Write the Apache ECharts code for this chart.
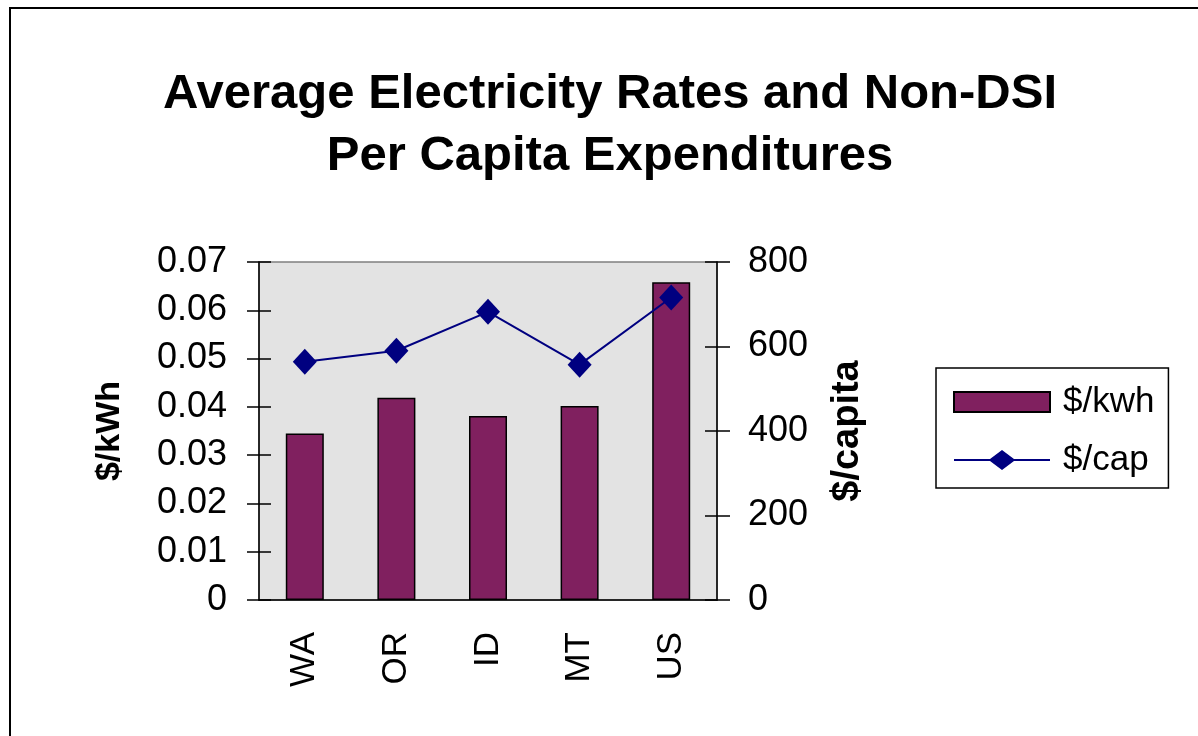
<!DOCTYPE html>
<html>
<head>
<meta charset="utf-8">
<script src="https://cdn.jsdelivr.net/npm/echarts@6/dist/echarts.min.js"></script>
<style>
  html, body { margin: 0; padding: 0; background: #fff; }
  #chart { width: 1198px; height: 736px; }
</style>
</head>
<body>
<div id="chart"></div>
<script>
  // categories along the x axis
  const states = ['WA', 'OR', 'ID', 'MT', 'US']
  // average electricity rate, $/kWh (bars, left axis)
  const rateKwh = [0.0345, 0.0419, 0.0381, 0.0402, 0.0658]
  // non-DSI per capita expenditures, $ (line, right axis)
  const perCapita = [564, 590, 682, 557, 716]

  const FONT = 'Liberation Sans, Arial, sans-serif'
  const chart = echarts.init(document.getElementById('chart'))

  // hidden twin axes that draw the inner half of the cross ticks
  const innerY = (min, max, interval, pos) => ({
    type: 'value', position: pos, min: min, max: max, interval: interval,
    axisLine: { show: false },
    axisTick: { show: true, inside: true, length: 12, lineStyle: { color: '#000', width: 1.5 } },
    axisLabel: { show: false },
    splitLine: { show: false }
  })

  // legend icon for the line: thin line with a diamond in the middle
  const lineDiamondIcon = 'path://M0,9L36,9L48,0L60,9L96,9L96,11L60,11L48,20L36,11L0,11Z'

  chart.setOption({
    animation: false,
    backgroundColor: '#fff',
    textStyle: { fontFamily: FONT, color: '#000' },
    title: {
      text: 'Average Electricity Rates and Non-DSI\nPer Capita Expenditures',
      left: 605,
      top: 58,
      textAlign: 'center',
      textStyle: { fontFamily: FONT, fontSize: 49, fontWeight: 'bold', color: '#000', lineHeight: 62 }
    },
    graphic: [{
      type: 'rect',
      shape: { x: 10, y: 8, width: 1400, height: 900 },
      style: { fill: 'none', stroke: '#000', lineWidth: 2 },
      silent: true
    }],
    legend: {
      orient: 'vertical',
      left: 936,
      top: 368,
      padding: [14, 14, 8, 17],
      itemGap: 18,
      itemWidth: 96,
      itemHeight: 20,
      borderColor: '#000',
      borderWidth: 1.5,
      textStyle: { fontFamily: FONT, fontSize: 35, color: '#000', lineHeight: 40, padding: [0, 0, 0, 8] },
      data: [
        { name: '$/kwh', icon: 'rect' },
        { name: '$/cap', icon: lineDiamondIcon, itemStyle: { color: '#000080', borderWidth: 0 } }
      ]
    },
    grid: {
      left: 259, right: 481, top: 262, bottom: 136,
      show: true, backgroundColor: '#e3e3e3', borderColor: '#808080', borderWidth: 1.5
    },
    xAxis: [{
      type: 'category',
      data: states,
      axisLine: { lineStyle: { color: '#000', width: 1.5 } },
      axisTick: { length: 11, lineStyle: { color: '#000', width: 1.5 } },
      axisLabel: { rotate: 90, margin: 32, fontSize: 35, color: '#000', fontFamily: FONT }
    }, {
      type: 'category',
      data: states,
      position: 'bottom',
      axisLine: { show: false },
      axisTick: { inside: true, length: 11, lineStyle: { color: '#000', width: 1.5 } },
      axisLabel: { show: false }
    }],
    yAxis: [{
      type: 'value',
      min: 0, max: 0.07, interval: 0.01,
      name: '$/kWh',
      nameLocation: 'middle',
      nameGap: 132,
      nameTextStyle: { fontFamily: FONT, fontSize: 34, fontWeight: 'bold', color: '#000' },
      axisLine: { show: true, lineStyle: { color: '#000', width: 1.5 } },
      axisTick: { show: true, length: 12, lineStyle: { color: '#000', width: 1.5 } },
      axisLabel: {
        margin: 32, fontSize: 36, color: '#000', fontFamily: FONT,
        formatter: v => (v === 0 ? '0' : v.toFixed(2))
      },
      splitLine: { show: false }
    }, {
      type: 'value',
      min: 0, max: 800, interval: 200,
      name: '$/capita',
      nameLocation: 'middle',
      nameGap: 112,
      nameRotate: 90,
      nameTextStyle: { fontFamily: FONT, fontSize: 38, fontWeight: 'bold', color: '#000' },
      axisLine: { show: true, lineStyle: { color: '#000', width: 1.5 } },
      axisTick: { show: true, length: 13, lineStyle: { color: '#000', width: 1.5 } },
      axisLabel: { margin: 31, fontSize: 36, color: '#000', fontFamily: FONT },
      splitLine: { show: false }
    },
    innerY(0, 0.07, 0.01, 'left'),
    innerY(0, 800, 200, 'right')
    ],
    series: [{
      name: '$/kwh',
      type: 'bar',
      data: rateKwh,
      barWidth: 38,
      itemStyle: { color: '#80205f', borderColor: '#000', borderWidth: 1.5 }
    }, {
      name: '$/cap',
      type: 'line',
      yAxisIndex: 1,
      data: perCapita,
      symbol: 'diamond',
      symbolSize: [24, 26],
      lineStyle: { color: '#000080', width: 2 },
      itemStyle: { color: '#000080' }
    }]
  })
</script>
</body>
</html>
